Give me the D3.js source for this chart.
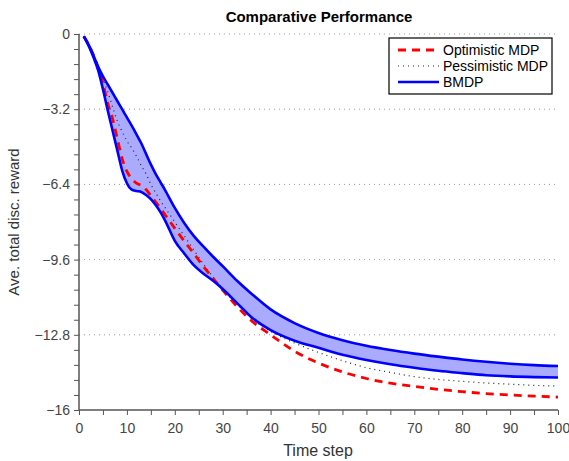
<!doctype html>
<html>
  <head>
    <meta charset="utf-8">
    <title>comparative performance</title>
    <script src="https://cdn.jsdelivr.net/npm/d3@7"></script>
    <style>
    body { margin: 0; background: #fff; }
    text { font-family: "Liberation Sans", Arial, sans-serif; }
    .tick text { fill: #444; font-size: 14px; }
    .axis path, .axis line { stroke: #555; }
    </style>
  </head>
  <body>
    <script>
      var w_svg = 569;
      var h_svg = 461;

      var steps = [1,2,3,4,5,6,7,8,9,10,11,12,13,14,15,16,17,18,20,22,24,26,28,30,33,36,40,45,50,55,60,65,70,75,80,85,90,95,100];

      var optimistic = [-0.1,-0.45,-0.9,-1.42,-2.1,-2.95,-3.6,-4.45,-5.3,-5.85,-6.15,-6.35,-6.45,-6.62,-6.88,-7.15,-7.42,-7.7,-8.27,-8.82,-9.35,-9.9,-10.4,-10.9,-11.6,-12.2,-12.8,-13.5,-14.0,-14.38,-14.66,-14.86,-15.0,-15.12,-15.22,-15.3,-15.36,-15.41,-15.45];
      var pessimistic = [-0.1,-0.5,-0.95,-1.45,-1.95,-2.45,-3.1,-3.7,-4.15,-4.55,-4.85,-5.2,-5.6,-5.95,-6.4,-6.75,-7.1,-7.4,-8.0,-8.6,-9.2,-9.8,-10.35,-10.85,-11.5,-12.1,-12.65,-13.15,-13.55,-13.9,-14.2,-14.4,-14.58,-14.7,-14.78,-14.85,-14.9,-14.95,-14.98];
      var bmdpUpper = [-0.1,-0.45,-0.9,-1.4,-1.8,-2.15,-2.5,-2.85,-3.2,-3.55,-3.9,-4.27,-4.65,-5.1,-5.55,-5.95,-6.3,-6.65,-7.4,-8.05,-8.6,-9.05,-9.48,-9.88,-10.5,-11.05,-11.72,-12.3,-12.72,-13.03,-13.27,-13.45,-13.6,-13.73,-13.85,-13.95,-14.03,-14.09,-14.13];
      var bmdpLower = [-0.1,-0.5,-0.98,-1.55,-2.35,-3.25,-4.1,-4.95,-5.8,-6.35,-6.62,-6.68,-6.72,-6.85,-7.03,-7.28,-7.58,-7.95,-8.8,-9.35,-9.85,-10.2,-10.5,-10.85,-11.45,-12.05,-12.6,-13.05,-13.35,-13.65,-13.87,-14.05,-14.2,-14.33,-14.43,-14.52,-14.57,-14.6,-14.62];

      var xTicks = [0,10,20,30,40,50,60,70,80,90,100];
      var yTicks = [0,-3.2,-6.4,-9.6,-12.8,-16];

      var legendNames = ["Optimistic MDP","Pessimistic MDP","BMDP"];

      var m_left = 79, m_right = 558, m_top = 34, m_bottom = 410;

      var svg = d3.select("body")
                  .append("svg")
                  .attr("width", w_svg)
                  .attr("height", h_svg)

      var x = d3.scaleLinear().domain([0,100]).range([m_left, m_right]);
      var y = d3.scaleLinear().domain([-16,0]).range([m_bottom, m_top]);

      // dotted grid lines (horizontal only)
      svg.selectAll(".grid")
         .data(yTicks.slice(0, 5))
         .enter().append("line")
         .attr("x1", m_left).attr("x2", m_right)
         .attr("y1", function(d){ return y(d); })
         .attr("y2", function(d){ return y(d); })
         .attr("stroke", "#999")
         .attr("stroke-width", 1)
         .attr("stroke-dasharray", "1,4");

      // minor ticks
      var xMinor = d3.range(0, 101, 5);
      var yMinor = d3.range(0, 26).map(function(i){ return -i * 0.64; });

      var xAxis = svg.append("g").attr("class","axis")
         .attr("transform","translate(0,"+m_bottom+")")
         .call(d3.axisBottom(x).tickValues(xMinor).tickSize(5).tickFormat(function(d){ return xTicks.indexOf(d) >= 0 ? d : ""; }).tickPadding(8));
      xAxis.select(".domain").attr("stroke-width", 1.5).attr("d", "M"+m_left+",0H"+m_right);

      var yAxis = svg.append("g").attr("class","axis")
         .attr("transform","translate("+m_left+",0)")
         .call(d3.axisLeft(y).tickValues(yMinor).tickSize(5).tickPadding(4)
           .tickFormat(function(d){
             for (var k = 0; k < yTicks.length; k++) if (Math.abs(yTicks[k]-d) < 1e-6) return d3.format("")(yTicks[k]);
             return "";
           }));
      yAxis.select(".domain").attr("stroke-width", 1.5).attr("d", "M0,"+m_top+"V"+m_bottom);

      // shaded BMDP band
      var area = d3.area()
          .x(function(d, i){ return x(steps[i]); })
          .y0(function(d, i){ return y(bmdpLower[i]); })
          .y1(function(d, i){ return y(bmdpUpper[i]); })
          .curve(d3.curveMonotoneX);

      svg.append("path")
         .datum(steps)
         .attr("d", area)
         .attr("fill", "#aaaaff");

      var line = function(vals){
        return d3.line()
          .x(function(d, i){ return x(steps[i]); })
          .y(function(d){ return y(d); })
          .curve(d3.curveMonotoneX)(vals);
      };

      svg.append("path").attr("d", line(pessimistic))
         .attr("fill","none").attr("stroke","#222").attr("stroke-width",1.2)
         .attr("stroke-dasharray","1,4");

      svg.append("path").attr("d", line(optimistic))
         .attr("fill","none").attr("stroke","#ff0000").attr("stroke-width",2.8)
         .attr("stroke-dasharray","8,6");

      [bmdpUpper, bmdpLower].forEach(function(v){
        svg.append("path").attr("d", line(v))
           .attr("fill","none").attr("stroke","#0000ff").attr("stroke-width",2.6);
      });

      // title and labels
      svg.append("text").attr("x", 319).attr("y", 22)
         .attr("text-anchor","middle").attr("font-size","15px").attr("font-weight","bold")
         .text("Comparative Performance");

      svg.append("text").attr("x", 318).attr("y", 456)
         .attr("text-anchor","middle").attr("font-size","16px").attr("fill","#333")
         .text("Time step");

      svg.append("text")
         .attr("transform","translate(19,"+((m_top+m_bottom)/2)+") rotate(-90)")
         .attr("text-anchor","middle").attr("font-size","15px").attr("fill","#333")
         .text("Ave. total disc. reward");

      // legend
      var lg = svg.append("g");
      lg.append("rect").attr("x", 389).attr("y", 38).attr("width", 163).attr("height", 56)
        .attr("fill","#fff").attr("stroke","#000").attr("stroke-width",1.2);

      var styles = [
        {stroke:"#ff0000", width:2.8, dash:"8,6"},
        {stroke:"#222", width:1.2, dash:"1,4"},
        {stroke:"#0000ff", width:2.6, dash:null}
      ];
      legendNames.forEach(function(name, i){
        var yy = 50 + i * 16;
        lg.append("line").attr("x1", 398).attr("x2", 439).attr("y1", yy).attr("y2", yy)
          .attr("stroke", styles[i].stroke).attr("stroke-width", styles[i].width)
          .attr("stroke-dasharray", styles[i].dash);
        lg.append("text").attr("x", 443).attr("y", yy + 5)
          .attr("font-size","14px").attr("fill","#000").text(name);
      });
    </script>
  </body>
</html>
